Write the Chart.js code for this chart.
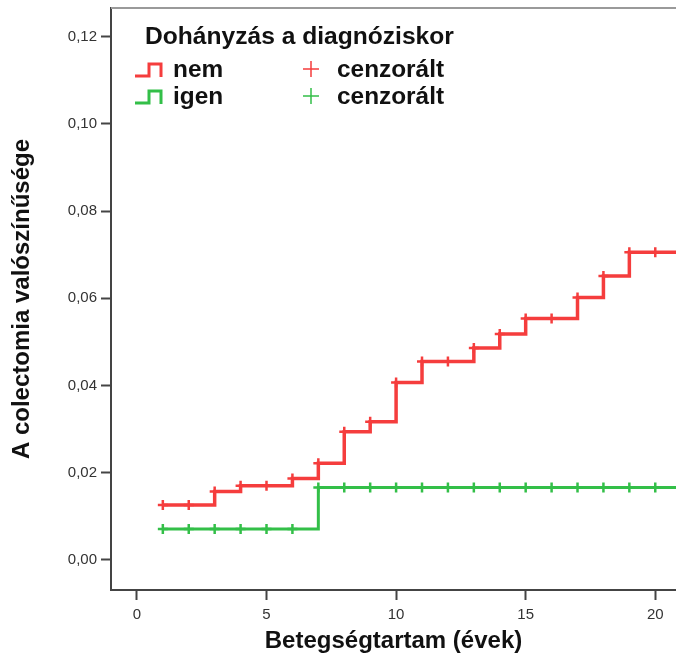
<!DOCTYPE html>
<html>
<head>
<meta charset="utf-8">
<script src="https://cdn.jsdelivr.net/npm/chart.js@4"></script>
<style>
  body { margin: 0; background: #fff; }
  canvas { display: block; }
</style>
</head>
<body>
<canvas id="colectomyChart" width="676" height="664"></canvas>
<script>
// Kaplan-Meier style cumulative colectomy probability, by smoking at diagnosis
const years = [1, 2, 3, 4, 5, 6, 7, 8, 9, 10, 11, 12, 13, 14, 15, 16, 17, 18, 19, 20];
const nemValues = [0.0126, 0.0126, 0.0157, 0.0170, 0.0170, 0.0187, 0.0222, 0.0294, 0.0317, 0.0407,
                   0.0455, 0.0455, 0.0486, 0.0518, 0.0554, 0.0554, 0.0602, 0.0651, 0.0706, 0.0706];
const igenValues = [0.0071, 0.0071, 0.0071, 0.0071, 0.0071, 0.0071, 0.0166, 0.0166, 0.0166, 0.0166,
                    0.0166, 0.0166, 0.0166, 0.0166, 0.0166, 0.0166, 0.0166, 0.0166, 0.0166, 0.0166];
const followUpEnd = 21; // lines run on past the last censored case
const groupLabels = ['nem', 'igen'];
const legendTitle = 'Dohányzás a diagnóziskor';
const censorLabel = 'cenzorált';

const redColor = '#f53d3d';
const greenColor = '#33bf48';
const fontFamily = "'Liberation Sans', Arial, sans-serif";

// points for each step curve, plus an unmarked end point
function stepPoints(values) {
    const pts = years.map((x, i) => ({ x: x, y: values[i] }));
    pts.push({ x: followUpEnd, y: values[values.length - 1] });
    return pts;
}
const markerRadius = (ctx) => (ctx.dataIndex < years.length ? 5 : 0);

// gray frame line along the top of the plot
const topFrame = {
    id: 'topFrame',
    afterDraw(chart) {
        const { ctx, chartArea } = chart;
        ctx.save();
        ctx.strokeStyle = '#9a9a9a';
        ctx.lineWidth = 2;
        ctx.beginPath();
        ctx.moveTo(chartArea.left, chartArea.top);
        ctx.lineTo(chartArea.right, chartArea.top);
        ctx.stroke();
        ctx.restore();
    }
};

// legend block drawn inside the plot area
const stepLegend = {
    id: 'stepLegend',
    afterDraw(chart) {
        const ctx = chart.ctx;
        const colors = [redColor, greenColor];
        ctx.save();
        ctx.fillStyle = '#111';
        ctx.textBaseline = 'alphabetic';
        ctx.font = 'bold 24.6px ' + fontFamily;
        ctx.fillText(legendTitle, 145, 44);
        groupLabels.forEach((label, i) => {
            const base = 77 + i * 27;
            // step icon
            ctx.strokeStyle = colors[i];
            ctx.lineWidth = 3;
            ctx.beginPath();
            ctx.moveTo(135, base - 1);
            ctx.lineTo(149, base - 1);
            ctx.lineTo(149, base - 13);
            ctx.lineTo(161, base - 13);
            ctx.lineTo(161, base);
            ctx.stroke();
            ctx.fillStyle = '#111';
            ctx.font = 'bold 24.4px ' + fontFamily;
            ctx.fillText(label, 173, base);
            // censor cross
            ctx.lineWidth = 1.5;
            ctx.beginPath();
            ctx.moveTo(303, base - 8);
            ctx.lineTo(319, base - 8);
            ctx.moveTo(311, base - 16);
            ctx.lineTo(311, base);
            ctx.stroke();
            ctx.fillText(censorLabel, 337, base);
        });
        ctx.restore();
    }
};

const ctx = document.getElementById('colectomyChart').getContext('2d');
const colectomyChart = new Chart(ctx, {
    type: 'line',
    data: {
        datasets: [{
            label: groupLabels[0],
            data: stepPoints(nemValues),
            stepped: 'before',
            borderColor: redColor,
            borderWidth: 3.5,
            pointStyle: 'cross',
            pointRadius: markerRadius,
            pointBorderWidth: 2.5,
            pointBorderColor: redColor,
            fill: false
        }, {
            label: groupLabels[1],
            data: stepPoints(igenValues),
            stepped: 'before',
            borderColor: greenColor,
            borderWidth: 3,
            pointStyle: 'cross',
            pointRadius: markerRadius,
            pointBorderWidth: 2.5,
            pointBorderColor: greenColor,
            fill: false
        }]
    },
    options: {
        responsive: false,
        animation: false,
        devicePixelRatio: 1,
        layout: { autoPadding: false, padding: { top: 8, right: 0, left: 0, bottom: 0 } },
        scales: {
            x: {
                type: 'linear',
                min: -1,
                max: 20.8,
                afterFit: (scale) => {
                    scale.height = 74;
                    scale.paddingLeft = 0;
                    scale.paddingRight = 0;
                },
                ticks: {
                    stepSize: 5,
                    includeBounds: false,
                    color: '#333',
                    font: { family: fontFamily, size: 15 },
                    padding: 6
                },
                grid: { drawOnChartArea: false, tickLength: 10, tickWidth: 2, tickColor: '#444' },
                border: { color: '#444', width: 2 },
                title: {
                    display: true,
                    text: 'Betegségtartam (évek)',
                    color: '#111',
                    font: { family: fontFamily, size: 24, weight: 'bold' },
                    padding: { top: 0, bottom: 8 }
                }
            },
            y: {
                min: -0.0069,
                max: 0.1266,
                afterFit: (scale) => {
                    scale.width = 111;
                    scale.paddingTop = 0;
                    scale.paddingBottom = 0;
                },
                ticks: {
                    stepSize: 0.02,
                    includeBounds: false,
                    color: '#333',
                    font: { family: fontFamily, size: 15 },
                    padding: 4,
                    callback: (v) => v.toFixed(2).replace('.', ',')
                },
                grid: { drawOnChartArea: false, tickLength: 10, tickWidth: 2, tickColor: '#444' },
                border: { color: '#444', width: 2 },
                title: {
                    display: true,
                    text: 'A colectomia valószínűsége',
                    color: '#111',
                    font: { family: fontFamily, size: 24, weight: 'bold' },
                    padding: { top: 8, bottom: 0 }
                }
            }
        },
        plugins: {
            legend: { display: false },
            tooltip: { enabled: false }
        }
    },
    plugins: [topFrame, stepLegend]
});
</script>
</body>
</html>
